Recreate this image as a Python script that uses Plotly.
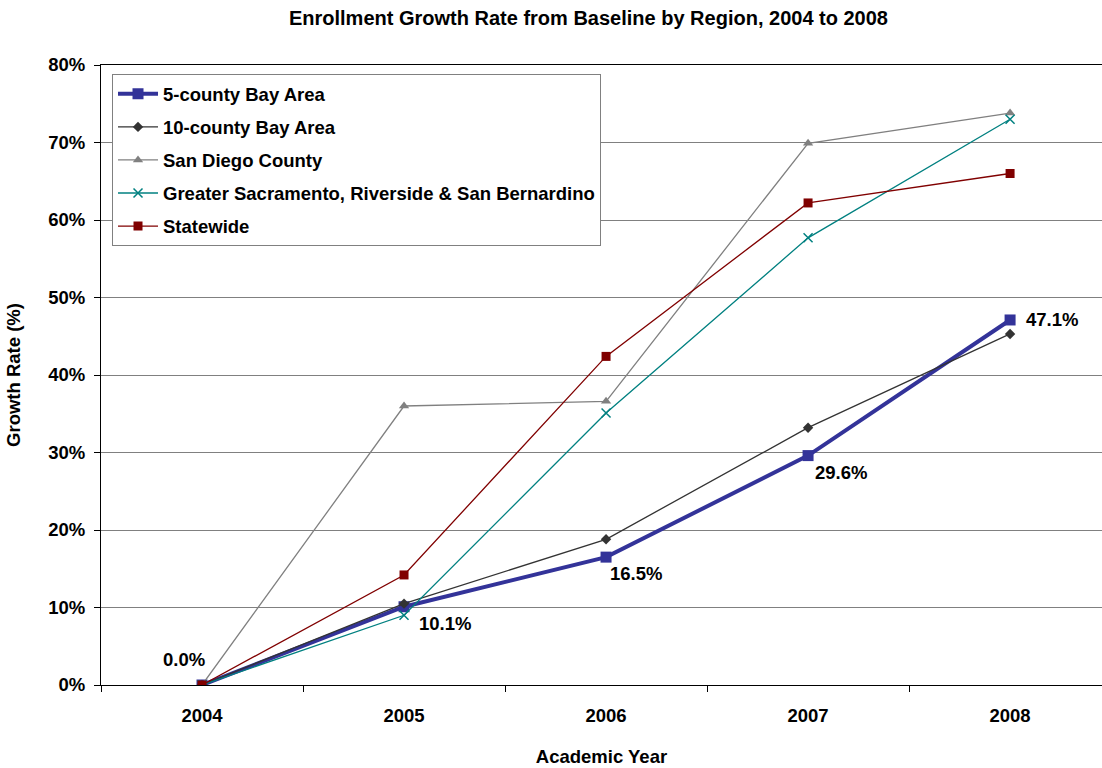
import plotly.graph_objects as go

years = ["2004", "2005", "2006", "2007", "2008"]

bay5 = [0.0, 10.1, 16.5, 29.6, 47.1]
bay10 = [0.0, 10.5, 18.8, 33.2, 45.3]
san_diego = [0.0, 36.0, 36.6, 69.9, 73.8]
sacramento = [0.0, 9.0, 35.1, 57.7, 73.0]
statewide = [0.0, 14.2, 42.4, 62.2, 66.0]

y_ticks = [0, 10, 20, 30, 40, 50, 60, 70, 80]

FONT = "Liberation Sans, Arial, sans-serif"
SIZE = 18.5
x_idx = list(range(len(years)))

fig = go.Figure()

fig.add_trace(go.Scatter(
    x=x_idx, y=bay5, name="5-county Bay Area", legendgroup="a",
    mode="lines+markers",
    line=dict(color="#333399", width=4),
    marker=dict(symbol="square", size=11, color="#333399"),
))
fig.add_trace(go.Scatter(
    x=x_idx, y=bay10, name="10-county Bay Area", legendgroup="b",
    mode="lines+markers",
    line=dict(color="#333333", width=1.3),
    marker=dict(symbol="diamond", size=8, color="#333333"),
))
fig.add_trace(go.Scatter(
    x=x_idx, y=san_diego, name="San Diego County", legendgroup="c",
    mode="lines+markers",
    line=dict(color="#808080", width=1.3),
    marker=dict(symbol="triangle-up", size=9, color="#808080"),
))
fig.add_trace(go.Scatter(
    x=x_idx, y=sacramento, name="Greater Sacramento, Riverside & San Bernardino", legendgroup="d",
    mode="lines+markers",
    line=dict(color="#008080", width=1.3),
    marker=dict(symbol="x-thin", size=9, color="#008080", line=dict(color="#008080", width=1.5)),
))
fig.add_trace(go.Scatter(
    x=x_idx, y=statewide, name="Statewide", legendgroup="e",
    mode="lines+markers",
    line=dict(color="#800000", width=1.3),
    marker=dict(symbol="square", size=9, color="#800000"),
))

# value labels on the 5-county series, nudged off each marker
label_offsets = [(-18, 26), (41, -17), (30, -16), (33, -17), (42, 0)]
for i, v in enumerate(bay5):
    dx, dy = label_offsets[i]
    fig.add_annotation(
        x=i, y=v, text=f"<b>{v:.1f}%</b>", showarrow=False,
        xshift=dx, yshift=dy, xanchor="center", yanchor="middle",
        font=dict(family=FONT, size=SIZE, color="black"),
    )

fig.update_layout(
    width=1102, height=768,
    margin=dict(l=101, r=0, t=65, b=83),
    paper_bgcolor="white", plot_bgcolor="white",
    font=dict(family=FONT, size=SIZE, color="black"),
    title=dict(
        text="<b>Enrollment Growth Rate from Baseline by Region, 2004 to 2008</b>",
        x=0.534, xanchor="center", y=0.977, yanchor="middle",
        font=dict(family=FONT, size=20, color="black"),
    ),
    showlegend=True,
    legend=dict(
        x=0.011, y=0.985, xanchor="left", yanchor="top",
        bgcolor="white", bordercolor="#808080", borderwidth=1,
        font=dict(family=FONT, size=SIZE, color="black", weight="bold"),
        tracegroupgap=6,
        itemwidth=40,
    ),
    xaxis=dict(
        range=[-0.5, 4.455],
        tickvals=x_idx, ticktext=[f"<b>{y}</b>" for y in years],
        ticks="", showgrid=False, zeroline=False,
        showline=True, linecolor="black", linewidth=1, mirror=True,
        tickfont=dict(family=FONT, size=SIZE, color="black"),
        ticklabelstandoff=14,
        minor=dict(tick0=-0.5, dtick=1, ticks="outside", ticklen=6, tickcolor="black", showgrid=False),
        title=dict(text="<b>Academic Year</b>", font=dict(family=FONT, size=SIZE, color="black"), standoff=24),
        fixedrange=True,
    ),
    yaxis=dict(
        range=[0, 80],
        tickvals=y_ticks, ticktext=[f"<b>{v}%</b>" for v in y_ticks],
        ticks="outside", ticklen=6, tickcolor="black",
        showgrid=True, gridcolor="#808080", gridwidth=1,
        zeroline=False,
        showline=True, linecolor="black", linewidth=1,
        tickfont=dict(family=FONT, size=SIZE, color="black"),
        ticklabelstandoff=5,
        title=dict(text="<b>Growth Rate (%)</b>", font=dict(family=FONT, size=SIZE, color="black"), standoff=22),
        fixedrange=True,
    ),
)

fig.write_html("out.html", config={"displayModeBar": False})
